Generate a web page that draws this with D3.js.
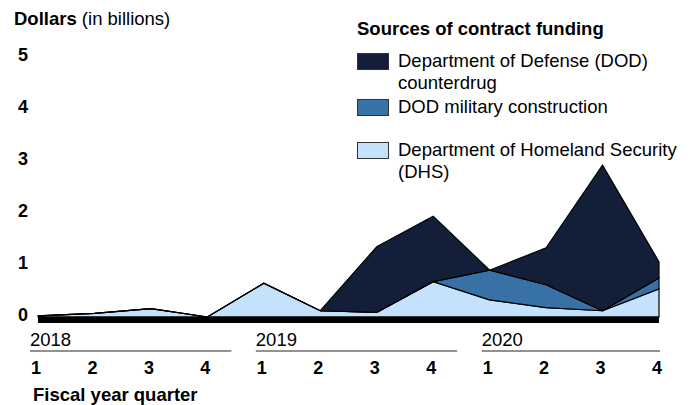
<!DOCTYPE html>
<html>
<head>
<meta charset="utf-8">
<script src="https://cdn.jsdelivr.net/npm/d3@7"></script>
<style>
  body { margin: 0; background: #fff; }
  svg { font-family: "Liberation Sans", Arial, sans-serif; }
</style>
</head>
<body>
<svg id="chart"></svg>
<script>
// fiscal year quarters, FY2018 Q1 .. FY2020 Q4
const years = ["2018", "2019", "2020"];
const quarters = ["1", "2", "3", "4"];
const yTicks = [0, 1, 2, 3, 4, 5];

// billions of dollars per quarter
const dhs         = [0.02, 0.07, 0.16, 0.00, 0.65, 0.12, 0.09, 0.68, 0.33, 0.18, 0.12, 0.54];
const milcon      = [0.00, 0.00, 0.00, 0.00, 0.00, 0.00, 0.00, 0.00, 0.57, 0.44, 0.00, 0.21];
const counterdrug = [0.00, 0.00, 0.00, 0.00, 0.00, 0.00, 1.26, 1.26, 0.00, 0.71, 2.80, 0.31];

const seriesNames = [
    {key: "counterdrug", lines: ["Department of Defense (DOD)", "counterdrug"], color: "#131f38"},
    {key: "milcon", lines: ["DOD military construction"], color: "#3871a6"},
    {key: "dhs", lines: ["Department of Homeland Security", "(DHS)"], color: "#c4e2fb"}
];

const width = 694, height = 405;
const margin = {top: 57, right: 35, bottom: 88, left: 38};

const svg = d3.select("#chart")
    .attr("width", width)
    .attr("height", height);

// build table rows from the arrays
const rows = [];
years.forEach((yr, i) => {
    quarters.forEach((q, j) => {
        const k = i * 4 + j;
        rows.push({idx: k, year: yr, q: q, dhs: dhs[k], milcon: milcon[k], counterdrug: counterdrug[k]});
    });
});

const xscale = d3.scaleLinear()
    .domain([0, rows.length - 1])
    .range([margin.left, width - margin.right]);

const yscale = d3.scaleLinear()
    .domain([0, 5])
    .range([height - margin.bottom, margin.top]);

const stack = d3.stack().keys(["dhs", "milcon", "counterdrug"]);
const stacked = stack(rows);
const colorOf = {};
seriesNames.forEach(s => colorOf[s.key] = s.color);

const area = d3.area()
    .x(d => xscale(d.data.idx))
    .y0(d => yscale(d[0]))
    .y1(d => yscale(d[1]));

svg.append("g")
    .selectAll("path")
    .data(stacked)
    .join("path")
    .attr("d", area)
    .attr("fill", d => colorOf[d.key])
    .attr("stroke", "#000")
    .attr("stroke-width", 1.2)
    .attr("stroke-linejoin", "miter");

// thick baseline
svg.append("rect")
    .attr("x", xscale(0))
    .attr("y", yscale(0) - 0.5)
    .attr("width", xscale(rows.length - 1) - xscale(0))
    .attr("height", 6.5)
    .attr("fill", "#000");

// y tick labels
svg.append("g")
    .selectAll("text")
    .data(yTicks)
    .join("text")
    .attr("x", 23)
    .attr("y", d => yscale(d) - 2)
    .attr("dy", "0.35em")
    .attr("text-anchor", "middle")
    .style("font-size", "18px")
    .style("font-weight", "bold")
    .text(d => d);

// y axis title
const ytitle = svg.append("text")
    .attr("x", 14)
    .attr("y", 25)
    .style("font-size", "18.5px");
ytitle.append("tspan").style("font-weight", "bold").text("Dollars");
ytitle.append("tspan").text(" (in billions)");

// x axis: quarter labels
svg.append("g")
    .selectAll("text")
    .data(rows)
    .join("text")
    .attr("x", d => xscale(d.idx) - 2)
    .attr("y", 374)
    .attr("text-anchor", "middle")
    .style("font-size", "18px")
    .style("font-weight", "bold")
    .text(d => d.q);

// year labels with rules
const xEnd = xscale(rows.length - 1) + 1;
const yearG = svg.append("g")
    .selectAll("g")
    .data(years)
    .join("g");

yearG.append("line")
    .attr("x1", (d, i) => xscale(i * 4) - 8)
    .attr("x2", (d, i) => Math.min(xscale(i * 4 + 3) + 24, xEnd))
    .attr("y1", 351)
    .attr("y2", 351)
    .attr("stroke", "#6e6e6e")
    .attr("stroke-width", 1.6);

yearG.append("text")
    .attr("x", (d, i) => xscale(i * 4) - 8)
    .attr("y", 346)
    .style("font-size", "18.5px")
    .text(d => d);

svg.append("text")
    .attr("x", 33)
    .attr("y", 401)
    .style("font-size", "18.5px")
    .style("font-weight", "bold")
    .text("Fiscal year quarter");

// legend
const legend = svg.append("g").attr("transform", "translate(357, 0)");
legend.append("text")
    .attr("x", 0)
    .attr("y", 35)
    .style("font-size", "18.5px")
    .style("font-weight", "bold")
    .text("Sources of contract funding");

const legendTops = [53, 99, 142];
const items = legend.selectAll("g.item")
    .data(seriesNames)
    .join("g")
    .attr("class", "item")
    .attr("transform", (d, i) => `translate(0, ${legendTops[i]})`);

items.append("rect")
    .attr("x", 0.5)
    .attr("y", 0.5)
    .attr("width", 31)
    .attr("height", 16)
    .attr("fill", d => d.color)
    .attr("stroke", "#333")
    .attr("stroke-width", 1);

items.each(function(d) {
    const t = d3.select(this).append("text")
        .attr("x", 41)
        .attr("y", 8)
        .style("font-size", "18.5px");
    d.lines.forEach((ln, k) => {
        t.append("tspan")
            .attr("x", 41)
            .attr("dy", k === 0 ? "0.35em" : "1.18em")
            .text(ln);
    });
});
</script>
</body>
</html>
